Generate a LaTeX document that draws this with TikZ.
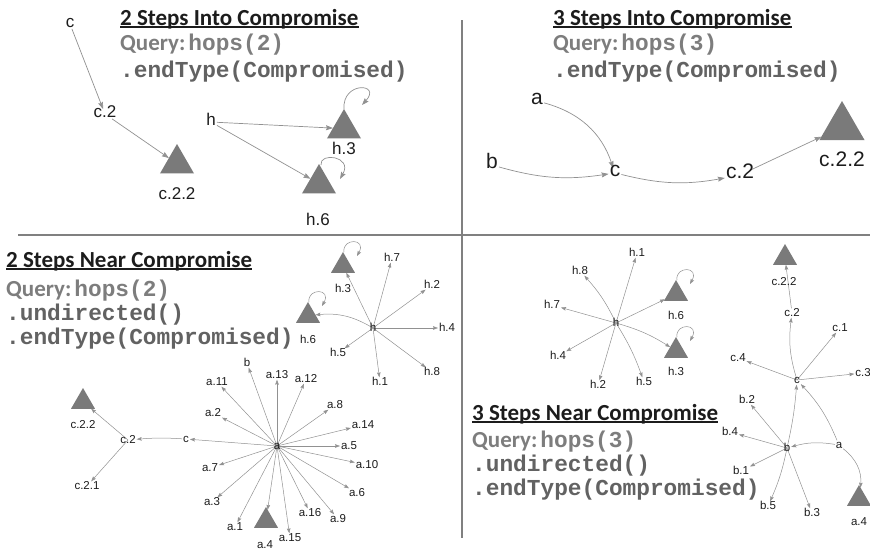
\documentclass[tikz,border=0pt]{standalone}
\usepackage{fontspec}
\setmainfont{Liberation Sans}
\newfontfamily\headfont{Carlito}
\newfontfamily\codefont{Liberation Mono}
\usetikzlibrary{arrows.meta,shapes.geometric,backgrounds}

\definecolor{ruleG}{RGB}{128,128,128}
\definecolor{edgeG}{RGB}{145,145,145}
\definecolor{triG}{RGB}{122,122,122}
\definecolor{queryG}{RGB}{125,125,125}
\definecolor{codeG}{RGB}{98,98,98}
\definecolor{inkG}{RGB}{28,28,28}

\newcommand{\qryfont}{\headfont\bfseries\fontsize{23}{26}\selectfont}
\newcommand{\monofont}{\codefont\bfseries\fontsize{22.8}{24}\selectfont}

\tikzset{
  quadrule/.style={draw=ruleG, line width=2pt},
  head/.style={inner sep=0pt, anchor=base west, text=inkG, font=\qryfont},
  headrule/.style={draw=inkG, line width=1.4pt},
  qline/.style={inner sep=0pt, anchor=base west, text=queryG},
  cline/.style={inner sep=0pt, anchor=base west, text=codeG, font=\monofont},
  lblT/.style={inner sep=1pt, text=inkG, font=\fontsize{17}{17}\selectfont, text height=0.72em, text depth=0.02em},
  lblR/.style={inner sep=1pt, text=inkG, font=\fontsize{21}{21}\selectfont, text height=0.72em, text depth=0.02em},
  lblB/.style={inner sep=0.8pt, text=inkG, font=\fontsize{11.5}{12}\selectfont, text height=0.72em, text depth=0.02em},
  tri/.style={regular polygon, regular polygon sides=3, fill=triG, draw=none,
              inner sep=0pt, outer sep=0pt, minimum size=#1, anchor=corner 1},
  arrT/.style={draw=edgeG, line width=0.7pt, -{Stealth[length=7pt,width=5pt,inset=1pt]}},
  arrB/.style={draw=edgeG, line width=0.5pt, -{Stealth[length=5pt,width=3.6pt,inset=0.8pt]}},
}

% small self-loop sitting on the apex of a triangle node
\newcommand{\smallloop}[1]{%
  \draw[arrB] ([shift={(1,0)}]#1.corner 1)
    .. controls ([shift={(-1,-14)}]#1.corner 1) and ([shift={(24,-14)}]#1.corner 1)
    .. ([shift={(14,4)}]#1.corner 1);}

\begin{document}
\begin{tikzpicture}[x=1pt,y=-1pt]
\useasboundingbox (0,0) rectangle (870,552);

% quadrant rules
\draw[quadrule] (18,235) -- (870,235);
\draw[quadrule] (462,20) -- (462,538);

% ---------------- 2 Steps Into Compromise ----------------
\node[head] (tlTitle) at (120,25) {2 Steps Into Compromise};
\draw[headrule] ([yshift=-2pt]tlTitle.base west) -- ([yshift=-2pt]tlTitle.base east);
\node[qline] (tlQuery) at (120,50) {{\qryfont Query:}\hspace{3pt}{\monofont hops(2)}};
\node[cline] (tlEnd) at (120,77) {.endType(Compromised)};

\node[lblT] (tlC) at (70,24) {c};
\node[lblT] (tlC2) at (105,114) {c.2};
\node[tri=39.3pt] (tlC22) at (177,144) {};
\node[lblT] (tlC22t) at (177,196) {c.2.2};
\node[lblT] (tlH) at (211,122) {h};
\node[tri=39.3pt] (tlH3) at (344,109) {};
\node[lblT] (tlH3t) at (344,151) {h.3};
\node[tri=39.3pt] (tlH6) at (319,164) {};
\node[lblT] (tlH6t) at (318,222) {h.6};

% ---------------- 3 Steps Into Compromise ----------------
\node[head] (trTitle) at (553,25) {3 Steps Into Compromise};
\draw[headrule] ([yshift=-2pt]trTitle.base west) -- ([yshift=-2pt]trTitle.base east);
\node[qline] (trQuery) at (553,50) {{\qryfont Query:}\hspace{3pt}{\monofont hops(3)}};
\node[cline] (trEnd) at (553,77) {.endType(Compromised)};

\node[lblR] (trA) at (537,101) {a};
\node[lblR] (trB) at (492,165) {b};
\node[lblR] (trC) at (615,173) {c};
\node[lblR] (trC2) at (740,175) {c.2};
\node[tri=52pt] (trC22) at (842,101) {};
\node[lblR] (trC22t) at (842,163) {c.2.2};

% ---------------- 2 Steps Near Compromise ----------------
\node[head] (blTitle) at (6,267) {2 Steps Near Compromise};
\draw[headrule] ([yshift=-2pt]blTitle.base west) -- ([yshift=-2pt]blTitle.base east);
\node[qline] (blQuery) at (6,296) {{\qryfont Query:}\hspace{3pt}{\monofont hops(2)}};
\node[cline] (blUnd) at (6,320) {.undirected()};
\node[cline] (blEnd) at (6,344) {.endType(Compromised)};

% h neighbourhood
\node[lblB] (blH) at (373,328) {h};
\node[tri=27.7pt] (blH3) at (343,252) {};
\node[lblB] (blH3t) at (343,289) {h.3};
\node[tri=27.7pt] (blH6) at (308,302) {};
\node[lblB] (blH6t) at (308,340) {h.6};
\node[lblB] (blH7) at (392,258) {h.7};
\node[lblB] (blH2) at (432,285) {h.2};
\node[lblB] (blH4) at (447,328) {h.4};
\node[lblB] (blH8) at (432,372) {h.8};
\node[lblB] (blH1) at (380,382) {h.1};
\node[lblB] (blH5) at (338,353) {h.5};

% a neighbourhood
\node[lblB] (blA) at (277,446) {a};
\node[lblB] (blB) at (247,363) {b};
\node[lblB] (blA13) at (277,375) {a.13};
\node[lblB] (blA12) at (306,379) {a.12};
\node[lblB] (blA11) at (217,382) {a.11};
\node[lblB] (blA2) at (213,413) {a.2};
\node[lblB] (blA8) at (335,405) {a.8};
\node[lblB] (blA14) at (363,425) {a.14};
\node[lblB] (blA5) at (349,446) {a.5};
\node[lblB] (blA10) at (367,465) {a.10};
\node[lblB] (blA6) at (357,493) {a.6};
\node[lblB] (blA9) at (338,519) {a.9};
\node[lblB] (blA16) at (310,513) {a.16};
\node[lblB] (blA15) at (290,538) {a.15};
\node[tri=27.7pt] (blA4) at (266,507) {};
\node[lblB] (blA4t) at (265,545) {a.4};
\node[lblB] (blA1) at (235,527) {a.1};
\node[lblB] (blA3) at (212,502) {a.3};
\node[lblB] (blA7) at (210,468) {a.7};

% c neighbourhood
\node[lblB] (blC) at (186,439) {c};
\node[lblB] (blC2) at (128,440) {c.2};
\node[tri=27.7pt] (blC22) at (83,388) {};
\node[lblB] (blC22t) at (83,425) {c.2.2};
\node[lblB] (blC21) at (87,486) {c.2.1};

% ---------------- 3 Steps Near Compromise ----------------
\node[head] (brTitle) at (472,420) {3 Steps Near Compromise};
\draw[headrule] ([yshift=-2pt]brTitle.base west) -- ([yshift=-2pt]brTitle.base east);
\node[qline] (brQuery) at (472,447) {{\qryfont Query:}\hspace{3pt}{\monofont hops(3)}};
\node[cline] (brUnd) at (472,471) {.undirected()};
\node[cline] (brEnd) at (472,495) {.endType(Compromised)};

% h neighbourhood
\node[lblB] (brH) at (616,323) {h};
\node[lblB] (brH1) at (637,253) {h.1};
\node[lblB] (brH8) at (580,271) {h.8};
\node[lblB] (brH7) at (552,305) {h.7};
\node[lblB] (brH4) at (558,356) {h.4};
\node[lblB] (brH2) at (598,385) {h.2};
\node[lblB] (brH5) at (644,382) {h.5};
\node[tri=27.7pt] (brH6) at (676,280) {};
\node[lblB] (brH6t) at (676,316) {h.6};
\node[tri=27.7pt] (brH3) at (676,337) {};
\node[lblB] (brH3t) at (676,372) {h.3};

% c / b / a neighbourhood
\node[lblB] (brC) at (797,380) {c};
\node[tri=27.7pt] (brC22) at (785,244) {};
\node[lblB] (brC22t) at (784,282) {c.2.2};
\node[lblB] (brC2) at (792,313) {c.2};
\node[lblB] (brC1) at (840,328) {c.1};
\node[lblB] (brC4) at (738,358) {c.4};
\node[lblB] (brC3) at (863,373) {c.3};
\node[lblB] (brB) at (787,448) {b};
\node[lblB] (brA) at (839,445) {a};
\node[tri=27.7pt] (brA4) at (859,485) {};
\node[lblB] (brA4t) at (859,522) {a.4};
\node[lblB] (brB2) at (747,400) {b.2};
\node[lblB] (brB4) at (730,432) {b.4};
\node[lblB] (brB1) at (741,471) {b.1};
\node[lblB] (brB5) at (768,506) {b.5};
\node[lblB] (brB3) at (812,513) {b.3};

% ---------------- connectors ----------------
\begin{scope}[on background layer]
  % 2 steps into
  \draw[arrT] (tlC) -- (tlC2);
  \draw[arrT] (tlC2) -- (tlC22);
  \draw[arrT] (tlH) -- (tlH3);
  \draw[arrT] (tlH) -- (tlH6);
  \draw[arrT] (tlH3.corner 1)
    .. controls ([shift={(-2,-28)}]tlH3.corner 1) and ([shift={(38,-26)}]tlH3.corner 1)
    .. ([shift={(18,-4)}]tlH3.corner 1);
  \draw[arrT] ([shift={(2,1)}]tlH6.corner 1)
    .. controls ([shift={(0,-12)}]tlH6.corner 1) and ([shift={(34,-8)}]tlH6.corner 1)
    .. ([shift={(21,15)}]tlH6.corner 1);

  % 3 steps into
  \draw[arrT] (trA) to[bend left=28] (trC);
  \draw[arrT] (trB) to[bend right=12] (trC);
  \draw[arrT] (trC) to[bend right=12] (trC2);
  \draw[arrT] (trC2) -- (trC22);

  % 2 steps near: h
  \foreach \n in {blH7,blH2,blH4,blH8,blH1,blH5,blH3}
    \draw[arrB] (blH.center) -- (\n);
  \draw[arrB] (blH.center) to[bend right=18] (blH6);
  \smallloop{blH3}
  \smallloop{blH6}

  % 2 steps near: a
  \foreach \n in {blB,blA13,blA12,blA11,blA2,blA8,blA14,blA5,blA10,blA6,blA9,blA16,blA15,blA4,blA1,blA3,blA7,blC}
    \draw[arrB] (blA.center) -- (\n);
  \draw[arrB] (blC) to[bend right=4] (blC2);
  \draw[arrB] (blC2.center) -- (blC22);
  \draw[arrB] (blC2.center) -- (blC21);

  % 3 steps near: h
  \foreach \n in {brH1,brH7,brH4,brH2,brH6}
    \draw[arrB] (brH.center) -- (\n);
  \draw[arrB] (brH.center) to[bend right=8] (brH8);
  \draw[arrB] (brH.center) to[bend left=6] (brH5);
  \draw[arrB] (brH.center) to[bend left=8] (brH3);
  \smallloop{brH6}
  \smallloop{brH3}

  % 3 steps near: c, b, a
  \draw[arrB] (brC.center) to[bend left=12] (brC2);
  \draw[arrB] (brC2) -- (brC22);
  \foreach \n in {brC1,brC4,brC3}
    \draw[arrB] (brC.center) -- (\n);
  \draw[arrB] (brB.center) to[bend right=4] (brC);
  \draw[arrB] (brA) to[bend right=10] (brC);
  \draw[arrB] (brA) to[bend right=12] (brB);
  \draw[arrB] (brA) to[bend left=28] (brA4);
  \foreach \n in {brB2,brB4,brB1,brB3}
    \draw[arrB] (brB.center) -- (\n);
  \draw[arrB] (brB.center) to[bend left=6] (brB5);
\end{scope}
\end{tikzpicture}
\end{document}
